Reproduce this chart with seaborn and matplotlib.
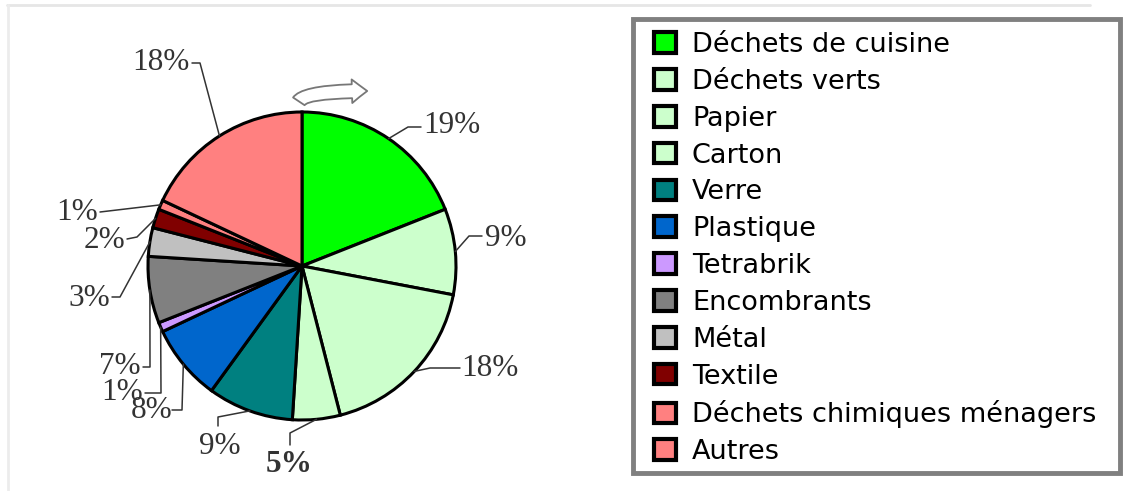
import matplotlib
matplotlib.use("Agg")
import matplotlib.pyplot as plt
import seaborn as sns
import numpy as np
from matplotlib.patches import Rectangle, FancyArrowPatch
from matplotlib.lines import Line2D

# waste composition (percent), clockwise from 12 o'clock
categories = ["Déchets de cuisine", "Déchets verts", "Papier", "Carton", "Verre",
              "Plastique", "Tetrabrik", "Encombrants", "Métal", "Textile",
              "Déchets chimiques ménagers", "Autres"]
values = [19, 9, 18, 5, 9, 8, 1, 7, 3, 2, 1, 18]
colors = ["#00ff00", "#ccffcc", "#ccffcc", "#ccffcc", "#008080", "#0066cc",
          "#cc99ff", "#808080", "#c0c0c0", "#800000", "#ff8080", "#ff8080"]

sns.set_theme(style="white")
plt.rcParams["font.family"] = ["DejaVu Sans"]

W, H = 1131, 491
fig = plt.figure(figsize=(W / 100, H / 100), dpi=100)
ax = fig.add_axes([0, 0, 1, 1])
ax.set_xlim(0, W)
ax.set_ylim(0, H)
ax.axis("off")

# work in pixel coordinates measured from the top of the image
def P(x, y):
    return (x, H - y)

cx, cy, R = 302, 266, 154
wedges, _ = ax.pie(values, colors=colors, startangle=90, counterclock=False,
                   center=P(cx, cy), radius=R,
                   wedgeprops=dict(edgecolor="black", linewidth=2.2))
ax.set_xlim(0, W)
ax.set_ylim(0, H)
ax.set_aspect("equal")

# leader-line elbows and label anchors (layout, pixel coords from top)
label_layout = [
    ([(408, 127), (421, 127)], (423, 125), "left"),
    ([(469, 236), (482, 236)], (485, 238), "left"),
    ([(430, 368), (460, 368)], (461, 368), "left"),
    ([(290, 433), (290, 445)], (289, 465), "center"),
    ([(218, 417), (218, 426)], (220, 447), "center"),
    ([(182, 410), (172, 410)], (172, 411), "right"),
    ([(161, 393), (145, 393)], (143, 392), "right"),
    ([(150, 367), (143, 367)], (141, 367), "right"),
    ([(120, 297), (112, 297)], (110, 298), "right"),
    ([(137, 237), (127, 239)], (125, 240), "right"),
    ([(100, 212)], (98, 212), "right"),
    ([(200, 63), (192, 63)], (190, 62), "right"),
]

cum = np.cumsum([0] + values)
total = float(sum(values))
for i, v in enumerate(values):
    mid = 90 - 360 * (cum[i] + v / 2) / total
    a = np.deg2rad(mid)
    start = (cx + R * np.cos(a), cy - R * np.sin(a))
    pts = [start] + label_layout[i][0]
    xs = [p[0] for p in pts]
    ys = [H - p[1] for p in pts]
    ax.plot(xs, ys, color="#333333", lw=1.1)
    tx, ty = label_layout[i][1]
    ax.text(tx, H - ty, f"{v}%", ha=label_layout[i][2], va="center",
            fontsize=22.5, family=["Liberation Serif", "DejaVu Serif"],
            fontweight="bold" if v == 5 else "normal", color="#333333")

# curved rotation arrow above the pie
arr = FancyArrowPatch(P(298, 104), P(370, 91),
                      connectionstyle="angle3,angleA=90,angleB=0",
                      arrowstyle="simple,head_length=0.55,head_width=0.85,tail_width=0.5",
                      mutation_scale=20, facecolor="white", edgecolor="#777777", lw=1.3)
ax.add_patch(arr)

# legend frame
ax.add_patch(Rectangle(P(633, 473), 1120 - 633, 473 - 19, facecolor="none",
                       edgecolor="#808080", lw=3.5, zorder=5))

leg = ax.legend(wedges, categories, loc="upper left",
                bbox_to_anchor=P(654, 32), bbox_transform=ax.transData,
                frameon=False, fontsize=19.5, borderpad=0, borderaxespad=0,
                handlelength=0.8, handleheight=0.8, handletextpad=0.6,
                labelspacing=0.4)
for h in leg.legend_handles:
    h.set_linewidth(3)
    h.set_edgecolor("black")
for t in leg.get_texts():
    t.set_color("black")

# faint page border
fig.add_artist(Line2D([7 / W, 1090 / W], [1 - 5 / H, 1 - 5 / H], color="#e6e6e6", lw=2))
fig.add_artist(Line2D([8 / W, 8 / W], [0, 1 - 5 / H], color="#ececec", lw=2))

fig.savefig("out.png", dpi=100)
